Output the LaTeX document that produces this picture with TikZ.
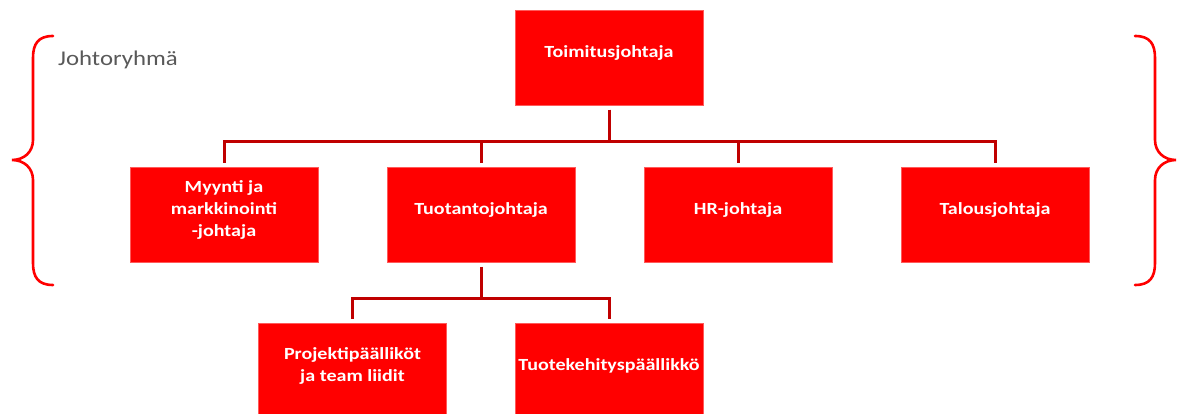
\documentclass[tikz,border=0pt]{standalone}
\usepackage{fontspec}
\setmainfont{Carlito}[FakeStretch=1.18]
\definecolor{boxred}{HTML}{FF0000}
\definecolor{edgered}{HTML}{FF5A5A}
\definecolor{linkred}{HTML}{C00000}
\definecolor{labelgray}{HTML}{595959}
% centred block of lines, lifted a little above the box centre
\newcommand{\boxlines}[1]{\raisebox{0pt}[\height][\dimexpr\depth+9pt\relax]{%
  \begin{tabular}{@{}c@{}}#1\end{tabular}}}
\begin{document}
\begin{tikzpicture}[x=1pt,y=-1pt,
  orgbox/.style={rectangle, fill=boxred, draw=edgered, line width=0.7pt,
    minimum width=188pt, minimum height=95pt, inner sep=0pt,
    text=white, font=\fontsize{17}{22}\selectfont\bfseries},
  link/.style={draw=linkred, line width=3pt, line join=miter,
    shorten <=4pt, shorten >=4pt},
  brace/.style={draw=boxred, line width=2.6pt, line cap=round}]
\clip (0,0) rectangle (1181,414);

% boxes
\node[orgbox] (ceo)   at (609,58)    {\boxlines{Toimitusjohtaja}};
\node[orgbox] (sales) at (224,215)   {\boxlines{Myynti ja\\markkinointi\\-johtaja}};
\node[orgbox] (prod)  at (481,215)   {\boxlines{Tuotantojohtaja}};
\node[orgbox] (hr)    at (738,215)   {\boxlines{HR-johtaja}};
\node[orgbox] (fin)   at (995,215)   {\boxlines{Talousjohtaja}};
\node[orgbox] (pm)    at (352.5,371) {\boxlines{Projektipäälliköt\\ja team liidit}};
\node[orgbox] (rd)    at (609,371)   {\boxlines{Tuotekehityspäällikkö}};

% connectors
\foreach \c in {sales,prod,hr,fin}
  \draw[link] (ceo.south) -- ++(0,36) -| (\c.north);
\foreach \c in {pm,rd}
  \draw[link] (prod.south) -- ++(0,36) -| (\c.north);

% group label and braces
\node[anchor=base west, text=labelgray, font=\fontsize{21}{25}\selectfont,
  inner sep=0pt] (group) at (58,66) {Johtoryhmä};

\draw[brace] (53,36) .. controls (38,36) and (33,44) .. (33,58)
  -- (33,140) .. controls (33,152) and (24,160) .. (12,160)
  .. controls (24,160) and (33,168) .. (33,180)
  -- (33,263) .. controls (33,277) and (38,285) .. (53,285);
\draw[brace] (1135,36) .. controls (1150,36) and (1155,44) .. (1155,58)
  -- (1155,140) .. controls (1155,152) and (1164,160) .. (1176,160)
  .. controls (1164,160) and (1155,168) .. (1155,180)
  -- (1155,263) .. controls (1155,277) and (1150,285) .. (1135,285);
\end{tikzpicture}
\end{document}
